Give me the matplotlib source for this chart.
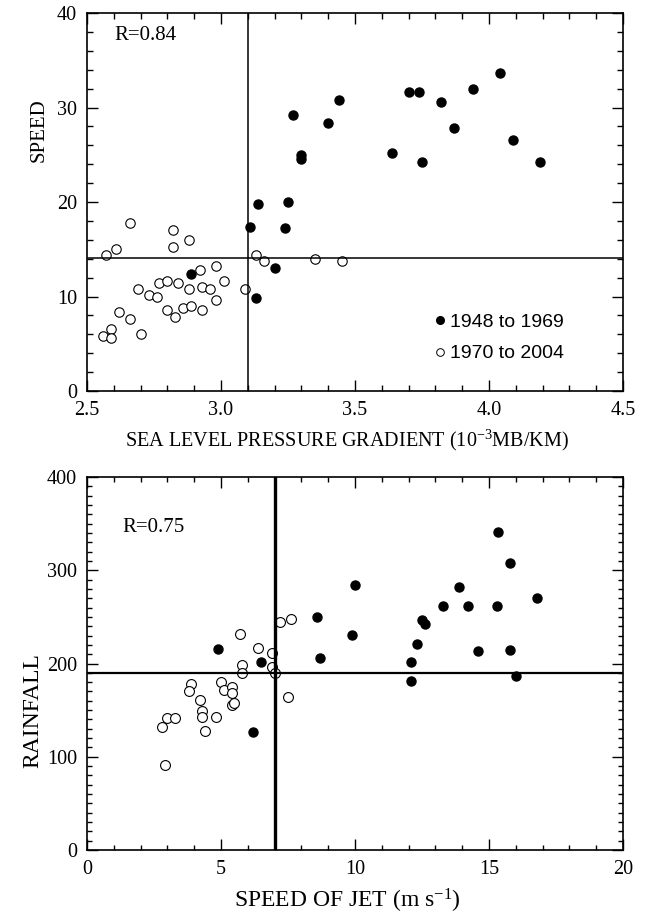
import matplotlib
matplotlib.use("Agg")
import matplotlib.pyplot as plt
from matplotlib.ticker import MultipleLocator
from matplotlib.lines import Line2D

# ---------------- data: top panel ----------------
slp_early = [3.27, 3.44, 3.40, 3.30, 3.30, 3.64, 3.70, 3.74, 3.75, 3.82, 3.87,
             3.94, 4.04, 4.09, 4.19, 3.14, 3.25, 3.11, 3.24, 3.20, 2.89, 3.13]
spd_early = [29.2, 30.8, 28.4, 25.0, 24.6, 25.2, 31.6, 31.6, 24.2, 30.6, 27.8,
             32.0, 33.6, 26.6, 24.2, 19.8, 20.0, 17.4, 17.2, 13.0, 12.4, 9.8]
slp_late = [2.66, 2.82, 2.88, 2.82, 2.61, 2.57, 3.13, 3.16, 3.35, 3.45, 2.98,
            2.92, 3.01, 2.77, 2.80, 2.84, 2.69, 2.88, 2.93, 2.96, 3.09, 2.73,
            2.76, 2.98, 2.80, 2.86, 2.89, 2.93, 2.83, 2.62, 2.66, 2.59, 2.56,
            2.59, 2.70]
spd_late = [17.8, 17.0, 16.0, 15.2, 15.0, 14.4, 14.4, 13.8, 14.0, 13.8, 13.2,
            12.8, 11.6, 11.4, 11.6, 11.4, 10.8, 10.8, 11.0, 10.8, 10.8, 10.2,
            10.0, 9.6, 8.6, 8.8, 9.0, 8.6, 7.8, 8.4, 7.6, 6.6, 5.8,
            5.6, 6.0]
slp_ref_x = 3.1
spd_ref_y = 14.1

# ---------------- data: bottom panel ----------------
jet_early = [4.9, 6.5, 6.2, 8.6, 8.7, 10.0, 9.9, 12.1, 12.1, 12.3, 12.5,
             12.6, 13.3, 13.9, 14.2, 14.6, 15.3, 15.35, 15.8, 16.8, 15.8, 16.0]
rain_early = [216, 202, 127, 250, 206, 284, 231, 202, 181, 221, 247,
              242, 262, 282, 262, 213, 262, 341, 308, 270, 215, 187]
jet_late = [7.2, 7.6, 5.7, 6.4, 6.9, 5.8, 5.8, 6.9, 7.0, 3.9, 3.8, 5.0, 5.1,
            5.4, 5.4, 5.4, 5.5, 4.2, 4.3, 4.3, 4.8, 3.0, 3.3, 2.8, 4.4, 2.9, 7.5]
rain_late = [244, 248, 232, 217, 211, 198, 190, 196, 190, 178, 171, 180, 172,
             175, 168, 156, 158, 161, 149, 143, 143, 142, 142, 132, 128, 91, 164]
jet_ref_x = 7.0
rain_ref_y = 190

legend_labels = ["1948 to 1969", "1970 to 2004"]

SERIF = ["Liberation Serif", "DejaVu Serif"]
plt.rcParams["mathtext.fontset"] = "custom"
plt.rcParams["mathtext.rm"] = "Liberation Serif"
plt.rcParams["mathtext.it"] = "Liberation Serif:italic"

fig = plt.figure(figsize=(6.5, 9.22), dpi=100)
ax1 = fig.add_axes([0.1338, 0.5759, 0.8246, 0.4100])
ax2 = fig.add_axes([0.1338, 0.0781, 0.8246, 0.4045])

def style(ax):
    for s in ax.spines.values():
        s.set_linewidth(1.2)
    ax.tick_params(which="both", direction="in", top=True, right=True,
                   width=1.0, labelsize=14.5, pad=7)
    ax.tick_params(which="major", length=8)
    ax.tick_params(which="minor", length=4)
    for lab in ax.get_xticklabels() + ax.get_yticklabels():
        lab.set_family(SERIF)

ms = 6.5
# top panel
ax1.plot(slp_early, spd_early, "o", color="black", ms=ms, ls="none")
ax1.plot(slp_late, spd_late, "o", mfc="white", mec="black", mew=0.8, ms=ms + 0.3, ls="none")
ax1.axvline(slp_ref_x, color="black", lw=1.1)
ax1.axhline(spd_ref_y, color="black", lw=1.1)
ax1.set_xlim(2.5, 4.5)
ax1.set_ylim(0, 40)
ax1.xaxis.set_major_locator(MultipleLocator(0.5))
ax1.xaxis.set_minor_locator(MultipleLocator(0.1))
ax1.yaxis.set_major_locator(MultipleLocator(10))
ax1.yaxis.set_minor_locator(MultipleLocator(2))
ax1.set_xticks([2.5, 3.0, 3.5, 4.0, 4.5])
ax1.set_xticklabels(["2.5", "3.0", "3.5", "4.0", "4.5"])
style(ax1)
ax1.set_xlabel(r"SEA LEVEL PRESSURE GRADIENT (10$^{\mathrm{-3}}$MB/KM)",
               family=SERIF, fontsize=14.5)
ax1.xaxis.set_label_coords(0.485, -0.098)
ax1.set_ylabel("SPEED", family=SERIF, fontsize=15)
ax1.yaxis.set_label_coords(-0.072, 0.69)
ax1.text(0.052, 0.94, "R=0.84", transform=ax1.transAxes, family=SERIF,
         fontsize=15, va="center", ha="left")
h1 = Line2D([], [], marker="o", color="black", ls="none", ms=5.5)
h2 = Line2D([], [], marker="o", mfc="white", mec="black", mew=0.7, ls="none", ms=5.5)
leg = ax1.legend([h1, h2], legend_labels, loc="lower right",
                 bbox_to_anchor=(0.905, 0.055), frameon=False, handlelength=0.6,
                 handletextpad=0.25, labelspacing=0.7, borderaxespad=0,
                 prop={"family": "Liberation Sans", "size": 14})

# bottom panel
ax2.plot(jet_early, rain_early, "o", color="black", ms=ms, ls="none")
ax2.plot(jet_late, rain_late, "o", mfc="white", mec="black", mew=0.8, ms=ms + 0.6, ls="none")
ax2.axvline(jet_ref_x, color="black", lw=2.4)
ax2.axhline(rain_ref_y, color="black", lw=1.6)
ax2.set_xlim(0, 20)
ax2.set_ylim(0, 400)
ax2.xaxis.set_major_locator(MultipleLocator(5))
ax2.xaxis.set_minor_locator(MultipleLocator(1))
ax2.yaxis.set_major_locator(MultipleLocator(100))
ax2.yaxis.set_minor_locator(MultipleLocator(10))
style(ax2)
ax2.tick_params(which="minor", length=3.5)
ax2.set_xlabel(r"SPEED OF JET (m s$^{\mathrm{-1}}$)", family=SERIF, fontsize=17)
ax2.xaxis.set_label_coords(0.485, -0.098)
ax2.set_ylabel("RAINFALL", family=SERIF, fontsize=17)
ax2.yaxis.set_label_coords(-0.082, 0.375)
ax2.text(0.066, 0.865, "R=0.75", transform=ax2.transAxes, family=SERIF,
         fontsize=15, va="center", ha="left")

fig.savefig("out.png", dpi=100)
